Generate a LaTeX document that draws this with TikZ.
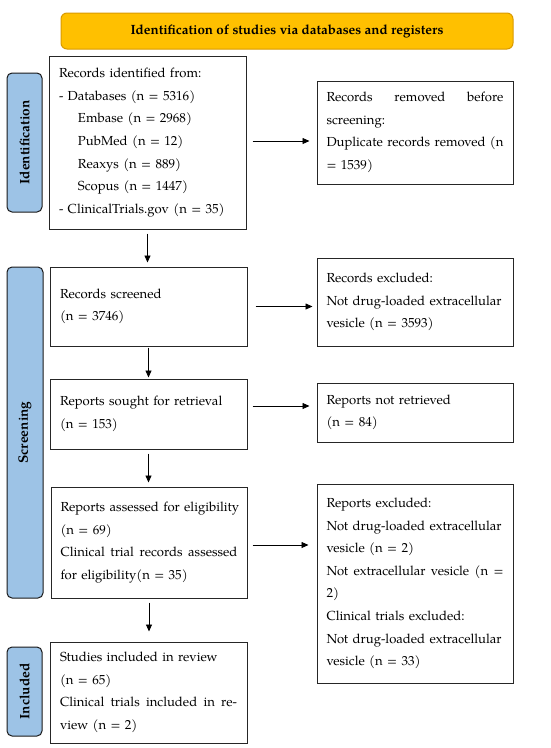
\documentclass[tikz,border=0pt]{standalone}
\usepackage{fontspec}
\setmainfont{TeX Gyre Pagella}
\usetikzlibrary{arrows.meta}
\definecolor{hdrfill}{HTML}{FFC000}
\definecolor{hdrline}{HTML}{D99A00}
\definecolor{sidefill}{HTML}{9DC3E6}
\definecolor{sideline}{HTML}{1A1A1A}
\newlength{\jwidth}
\setlength{\jwidth}{177pt}
\newcommand{\jl}[1]{\leavevmode\hbox to \jwidth{#1}}
\begin{document}
\begin{tikzpicture}[x=1pt,y=-1pt,
  box/.style={draw=black!85, line width=1pt, fill=white, minimum width=#1, inner sep=0pt,
     text width=177pt, align=left, font=\fontsize{13.1}{22.6}\selectfont},
  side/.style={draw=sideline, line width=1pt, fill=sidefill, rounded corners=5pt, inner sep=0pt},
  sidetext/.style={rotate=90, font=\fontsize{13.6}{15}\selectfont\bfseries},
  arr/.style={-{Triangle[length=7pt,width=6pt]}, line width=0.8pt, black}]
\useasboundingbox (0,0) rectangle (550,748);
% header
\node[draw=hdrline, line width=1pt, fill=hdrfill, rounded corners=6pt,
  minimum width=452pt, minimum height=36pt, inner sep=0pt,
  font=\fontsize{13.4}{15}\selectfont\bfseries] (hdr) at (287,31)
  {Identification of studies via databases and registers};
% side labels
\node[side, minimum width=35pt, minimum height=139pt] (s1) at (24.5,142.5) {};
\node[sidetext] (s1t) at (s1.center) {Identification};
\node[side, minimum width=36pt, minimum height=331pt] (s2) at (25,432.5) {};
\node[sidetext] (s2t) at (s2.center) {Screening};
\node[side, minimum width=35pt, minimum height=89pt] (s3) at (24.5,691.5) {};
\node[sidetext] (s3t) at (s3.center) {Included};
% main boxes
\node[box=197pt, minimum height=173pt] (b1) at (147.5,142.5)
  {Records identified from:\\
   - Databases (n = 5316)\\
   \hspace*{19pt}Embase (n = 2968)\\
   \hspace*{19pt}PubMed (n = 12)\\
   \hspace*{19pt}Reaxys (n = 889)\\
   \hspace*{19pt}Scopus (n = 1447)\\
   - ClinicalTrials.gov (n = 35)};
\node[box=196pt, minimum height=103pt] (r1) at (415,132.5)
  {\jl{Records \hfill removed \hfill before}\\
   screening:\\
   \jl{Duplicate records removed (n}\\
   = 1539)};
\node[box=197pt, minimum height=79pt] (b2) at (148.5,306.5)
  {Records screened\\ (n = 3746)};
\node[box=196pt, minimum height=88pt] (r2) at (415,302)
  {Records excluded:\\
   \jl{Not drug-loaded extracellular}\\
   vesicle (n = 3593)};
\node[box=197pt, minimum height=70pt] (b3) at (148.5,414)
  {Reports sought for retrieval\\ (n = 153)};
\node[box=196pt, minimum height=59pt] (r3) at (415,412.5)
  {Reports not retrieved\\ (n = 84)};
\node[box=196pt, minimum height=111pt] (b4) at (149,542.5)
  {\jl{Reports assessed for eligibility}\\
   (n = 69)\\
   \jl{Clinical \hfill trial \hfill records \hfill assessed}\\
   for eligibility(n = 35)};
\node[box=196pt, minimum height=199pt] (r4) at (415,583.5)
  {Reports excluded:\\
   \jl{Not drug-loaded extracellular}\\
   vesicle (n = 2)\\
   \jl{Not \hfill extracellular \hfill vesicle \hfill (n \hfill =}\\
   2)\\
   Clinical trials excluded:\\
   \jl{Not drug-loaded extracellular}\\
   vesicle (n = 33)};
\node[box=197pt, minimum height=101pt] (b5) at (148.5,692.5)
  {Studies included in review\\
   (n = 65)\\
   \jl{Clinical \hfill trials \hfill included \hfill in \hfill re-}\\
   view (n = 2)};
% connector start points
\coordinate (a1) at ([xshift=6pt,yshift=1.5pt]b1.east);
\coordinate (a2) at ([xshift=8pt]b2.east);
\coordinate (a3) at ([xshift=5pt,yshift=8pt]b3.east);
\coordinate (a4) at ([xshift=5pt,yshift=-2.5pt]b4.east);
\coordinate (e1) at ([xshift=-7pt]r1.west);
\coordinate (e2) at ([xshift=-4pt]r2.west);
\coordinate (e3) at ([xshift=-7pt]r3.west);
\coordinate (e4) at ([xshift=-8pt]r4.west);
% horizontal arrows
\draw[arr] (a1) -- (a1 -| e1);
\draw[arr] (a2) -- (a2 -| e2);
\draw[arr] (a3) -- (a3 -| e3);
\draw[arr] (a4) -- (a4 -| e4);
% vertical arrows
\coordinate (d1) at ([yshift=-4pt]b1.south);
\coordinate (d2) at ([yshift=-1pt]b2.south);
\coordinate (d3) at ([yshift=-4pt]b3.south);
\coordinate (d4) at ([yshift=-4pt]b4.south);
\coordinate (t2) at ([yshift=4pt]b2.north);
\coordinate (t3) at ([yshift=1pt]b3.north);
\coordinate (t4) at ([yshift=4pt]b4.north);
\coordinate (t5) at ([yshift=10pt]b5.north);
\draw[arr] (d1) -- (d1 |- t2);
\draw[arr] (d2) -- (d2 |- t3);
\draw[arr] (d3) -- (d3 |- t4);
\draw[arr] (d4) -- (d4 |- t5);
\end{tikzpicture}
\end{document}
